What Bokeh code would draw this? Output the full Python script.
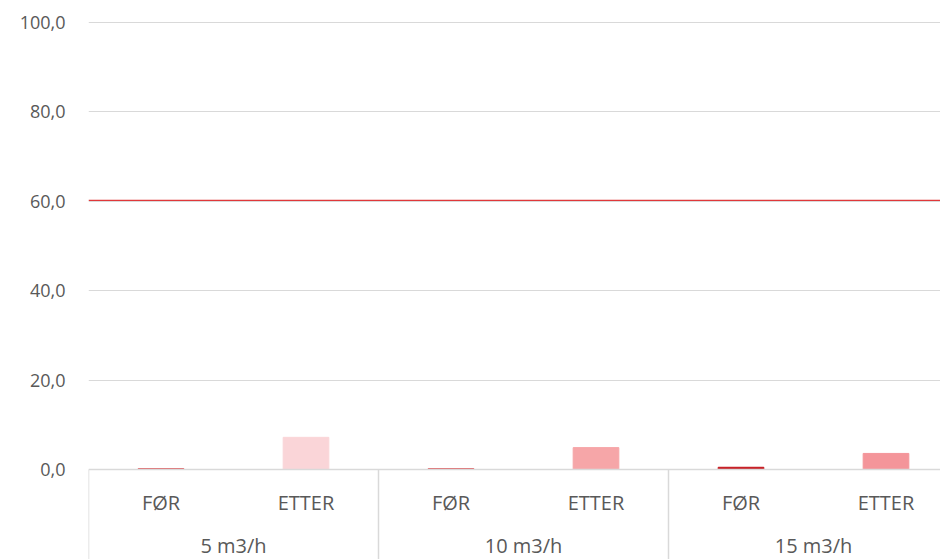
from bokeh.plotting import figure
from bokeh.models import Range1d, FixedTicker, Span, ColumnDataSource
from bokeh.core.properties import value
from bokeh.embed import file_html
from bokeh.resources import INLINE

# ---- data ----
groups = ["5 m3/h", "10 m3/h", "15 m3/h"]
phases = ["FØR", "ETTER"]
for_values = [0.2, 0.2, 0.5]
etter_values = [7.2, 4.9, 3.6]
for_colors = ["#de5a5e", "#de5a5e", "#c4161c"]
etter_colors = ["#fad5d8", "#f6a6a8", "#f4959a"]
y_ticks = [0, 20, 40, 60, 80, 100]
y_tick_labels = ["0,0", "20,0", "40,0", "60,0", "80,0", "100,0"]
limit_value = 60.2

TEXT = "#595959"
GRID = "#d9d9d9"
FONT = "Open Sans"

W, H = 940, 559
left = 88
slot_px = 145.0
y_top, y_bot = 104.92, -20.13

p = figure(width=W, height=H, output_backend="svg", toolbar_location=None,
           x_range=Range1d(0, (W - left) / slot_px), y_range=Range1d(y_bot, y_top),
           x_axis_location=None, min_border_left=left, min_border_right=0,
           min_border_top=0, min_border_bottom=0)
p.outline_line_color = None
p.xgrid.visible = False
p.background_fill_color = "white"
p.border_fill_color = "white"

yax = p.yaxis[0]
yax.ticker = FixedTicker(ticks=y_ticks, minor_ticks=[])
yax.major_label_overrides = {t: l for t, l in zip(y_ticks, y_tick_labels)}
yax.axis_line_color = None
yax.major_tick_line_color = None
yax.minor_tick_line_color = None
yax.major_label_standoff = 17
yax.major_label_text_font = FONT
yax.major_label_text_font_size = "18px"
yax.major_label_text_color = TEXT
p.ygrid.ticker = FixedTicker(ticks=y_ticks[1:])
p.ygrid.grid_line_color = GRID
p.ygrid.grid_line_width = 1

# bars
xs, tops, colors = [], [], []
for i, g in enumerate(groups):
    xs += [2 * i + 0.5, 2 * i + 1.5]
    tops += [for_values[i], etter_values[i]]
    colors += [for_colors[i], etter_colors[i]]
src = ColumnDataSource(dict(x=xs, top=tops, color=colors))
p.vbar(x="x", top="top", bottom=0, width=0.315, color="color", source=src)

# category axis drawn in data space below zero
p.add_layout(Span(location=0, dimension="width", line_color=GRID, line_width=1.5))
div_x = [2 * i for i in range(len(groups) + 1)]
p.segment(x0=div_x, x1=div_x, y0=[0] * len(div_x), y1=[y_bot] * len(div_x),
          line_color=GRID, line_width=1.5)

ph_x, ph_t = [], []
for i in range(len(groups)):
    for j, ph in enumerate(phases):
        ph_x.append(2 * i + j + 0.5)
        ph_t.append(ph)
p.text(x=ph_x, y=[-7.4] * len(ph_x), text=ph_t, text_align="center",
       text_baseline="middle", text_font=value(FONT), text_font_size="20px",
       text_color=TEXT)
p.text(x=[2 * i + 1 for i in range(len(groups))], y=[-17.0] * len(groups), text=groups,
       text_align="center", text_baseline="middle", text_font=value(FONT),
       text_font_size="20px", text_color=TEXT)

# limit line
p.add_layout(Span(location=limit_value, dimension="width", line_color="#e0383a",
                  line_width=1.2))

open("out.html", "w").write(file_html(p, INLINE))
